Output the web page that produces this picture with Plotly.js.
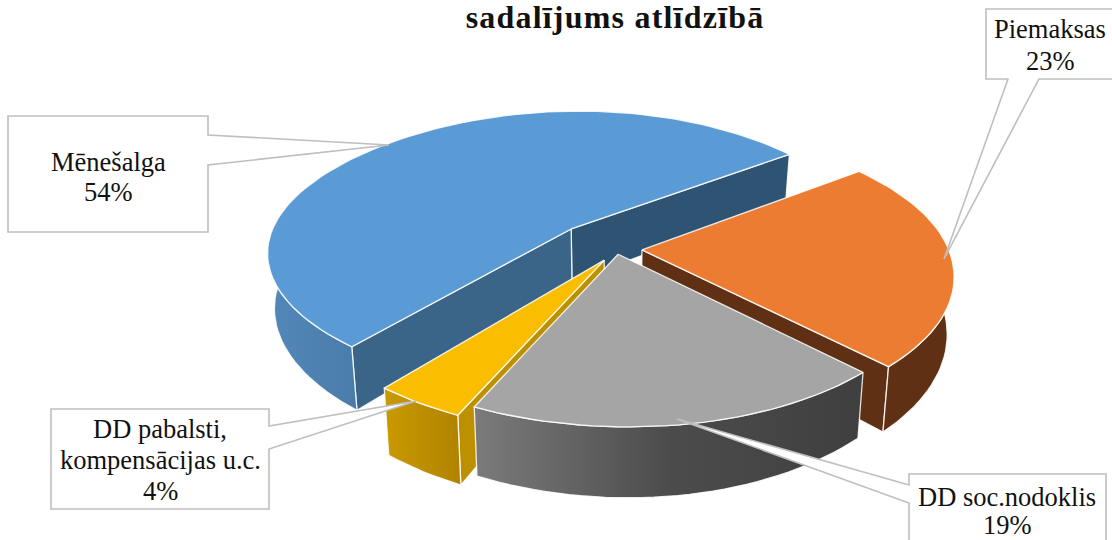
<!DOCTYPE html>
<html>
<head>
<meta charset="utf-8">
<script src="https://cdn.plot.ly/plotly-3.0.1.min.js"></script>
<style>html,body{margin:0;padding:0;background:#fff}.gtitle{letter-spacing:1.2px}</style>
</head>
<body>
<div id="chart" style="width:1112px;height:540px"></div>
<script>
const categories = ['Mēnešalga', 'Piemaksas', 'DD soc.nodoklis', 'DD pabalsti,\nkompensācijas u.c.'];
const values = [54, 23, 19, 4];
const titleText = 'sadalījums atlīdzībā';

// drawing styles and camera model
const secondSliceAngle = 54;
const view = {cx: 610, cy: 240, Rx: 303, Ry: 140, p: 0.175, px: 0.18, pxx: 0.05, warpB: 7.8, warpC: 11, D: 54, pow: 1.3, bottomScale: 0.98, rimLift: 0.018};
const explode = [[-0.13, 0.08], [0.104, -0.07], [0.026, -0.10], [-0.019, -0.14]];
const topColors = ['#5b9bd5', '#eb7c31', '#a5a5a5', '#fbbd00'];
const startWall = ['#3b6588', null, null, '#bd9000'];
const endWall = ['#2f5373', '#5f3013', null, null];
const outerWall = [['#5288b9', '#4e82b1', '#4a7ca9'], ['#5f3013', '#5f3013', '#5f3013'], ['#7b7b7b', '#4c4c4c', '#3f3f3f'], ['#c99a00', '#bd8e00', '#b08300']];
const drawOrder = [0, 1, 3, 2];
const edge = 'rgba(255,255,255,0.85)';
const labelFont = {family: 'Liberation Serif', size: 26.5, color: '#111'};
const boxLine = '#bfbfbf';
const boxes = [
  {path: 'M8,116 H208 V135 L389,145 L208,165 V232 H8 Z', cx: 108, lines: [162, 192]},
  {path: 'M986,9 H1116 V79 H1039 L944,259 L1008,79 H986 Z', cx: 1050, lines: [29, 61]},
  {path: 'M909,474 H1106 V560 H909 V503 L677,419 L909,485 Z', cx: 1007, lines: [497, 525]},
  {path: 'M51,409 H269 V426 L416,401 L269,449 V509 H51 Z', cx: 160, lines: [429, 460, 491]}
];

function project(X, Y, low) {
  const s = 1 / (1 + view.p * Y);
  const sx = 1 / (1 + view.px * Y + view.pxx * Y * Y);
  const f = Math.min(Y, 0);
  let x = view.cx + view.Rx * X * sx + f * f * (view.warpB + view.warpC * X);
  let y = view.cy - view.Ry * Y * s;
  if (low) { x = view.cx + (x - view.cx) * view.bottomScale; y += view.D * Math.pow(s, view.pow); }
  return [x, y];
}
function rim(i, deg, low) {
  const t = deg * Math.PI / 180;
  return project(explode[i][0] + Math.sin(t), explode[i][1] + view.rimLift + Math.cos(t), low);
}
function apex(i, low) { return project(explode[i][0], explode[i][1], low); }
function arcAngles(a, b) {
  const out = [];
  const n = Math.max(2, Math.ceil((b - a) / 2));
  for (let k = 0; k <= n; k++) out.push(a + (b - a) * k / n);
  return out;
}
function poly(pts, color, grad) {
  const tr = {
    x: pts.map(p => p[0]).concat([pts[0][0]]),
    y: pts.map(p => p[1]).concat([pts[0][1]]),
    type: 'scatter', mode: 'lines', fill: 'toself', hoverinfo: 'skip',
    line: {color: edge, width: 1.3}, fillcolor: color
  };
  if (grad) tr.fillgradient = {type: 'horizontal', colorscale: [[0, grad[0]], [0.5, grad[1]], [1, grad[2]]]};
  return tr;
}

// slice angles from the values
const total = values.reduce((a, b) => a + b, 0);
const bounds = [];
let acc = secondSliceAngle - values[0] / total * 360;
values.forEach(v => { const a0 = acc; acc += v / total * 360; bounds.push([a0, acc]); });

const traces = [];
drawOrder.forEach(i => {
  let [a0, a1] = bounds[i];
  // radial walls that face the viewer
  if (endWall[i]) traces.push(poly([apex(i), rim(i, a1), rim(i, a1, true), apex(i, true)], endWall[i]));
  if (startWall[i]) traces.push(poly([apex(i), rim(i, a0), rim(i, a0, true), apex(i, true)], startWall[i]));
  // visible part of the outer wall (facing the viewer)
  const norm = d => ((d % 360) + 360) % 360;
  let w0 = norm(a0), w1 = w0 + (a1 - a0);
  const vis0 = Math.max(w0, 82), vis1 = Math.min(w1, 288);
  if (vis1 > vis0) {
    const ang = arcAngles(vis0, vis1);
    const topArc = ang.map(d => rim(i, d));
    const lowArc = ang.slice().reverse().map(d => rim(i, d, true));
    traces.push(poly(topArc.concat(lowArc), outerWall[i][0], outerWall[i]));
  }
  // top face
  const face = [apex(i)].concat(arcAngles(a0, a1).map(d => rim(i, d)));
  traces.push(poly(face, topColors[i]));
});

const annotations = [];
boxes.forEach((b, i) => {
  const txt = categories[i].split('\n').concat([values[i] + '%']);
  txt.forEach((t, k) => annotations.push({
    x: b.cx, y: b.lines[k], xref: 'x', yref: 'y', text: t, showarrow: false,
    xanchor: 'center', yanchor: 'middle', font: labelFont
  }));
});

const layout = {
  width: 1112, height: 540, autosize: false,
  margin: {l: 0, r: 0, t: 0, b: 0},
  paper_bgcolor: '#fff', plot_bgcolor: '#fff', showlegend: false,
  title: {text: titleText, x: 615 / 1112, xanchor: 'center', y: 1 - 17 / 540, yanchor: 'middle',
    font: {family: 'Liberation Serif', size: 32, color: '#111', weight: 700}},
  xaxis: {range: [0, 1112], visible: false, fixedrange: true},
  yaxis: {range: [540, 0], visible: false, fixedrange: true},
  shapes: boxes.map(b => ({type: 'path', path: b.path, xref: 'x', yref: 'y', layer: 'above',
    fillcolor: '#fff', line: {color: boxLine, width: 1.6}})),
  annotations
};
Plotly.newPlot('chart', traces, layout, {displayModeBar: false, staticPlot: true});
</script>
</body>
</html>
